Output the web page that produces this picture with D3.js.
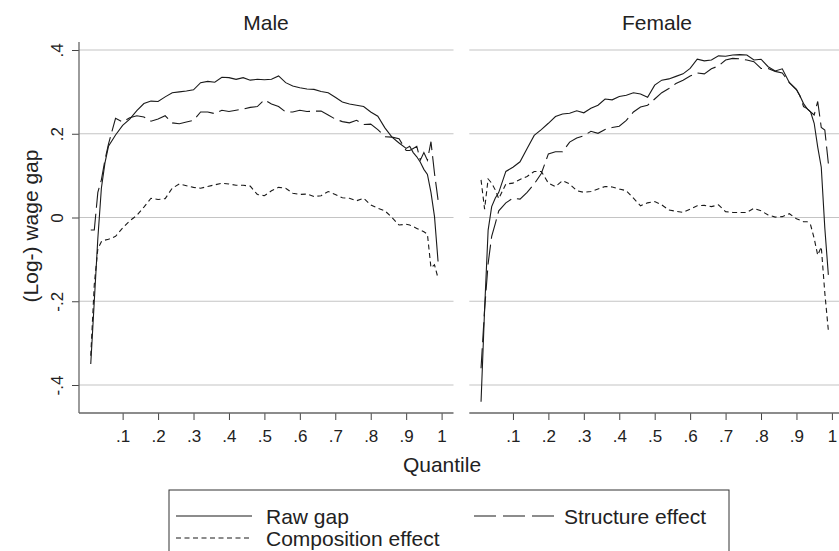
<!DOCTYPE html>
<html>
<head>
<meta charset="utf-8">
<script src="https://cdn.jsdelivr.net/npm/d3@7"></script>
<style>
  body { margin: 0; background: #fff; }
  text { font-family: "Liberation Sans", Arial, sans-serif; fill: #222; }
</style>
</head>
<body>
<script>
// quantile grid shared by all series
const quantiles = [0.01,0.02,0.03,0.04,0.05,0.06,0.08,0.10,0.12,0.14,0.16,0.18,0.20,0.22,0.24,0.26,0.28,0.30,0.32,0.34,0.36,0.38,0.40,0.42,0.44,0.46,0.48,0.50,0.52,0.54,0.56,0.58,0.60,0.62,0.64,0.66,0.68,0.70,0.72,0.74,0.76,0.78,0.80,0.82,0.84,0.86,0.88,0.90,0.91,0.92,0.93,0.94,0.95,0.96,0.97,0.98,0.99];

const maleRaw = [-0.35,-0.20,-0.05,0.07,0.13,0.17,0.197,0.22,0.235,0.255,0.272,0.278,0.277,0.288,0.298,0.300,0.302,0.305,0.322,0.325,0.323,0.335,0.334,0.330,0.334,0.328,0.330,0.329,0.330,0.338,0.322,0.314,0.310,0.307,0.306,0.301,0.298,0.287,0.276,0.271,0.268,0.265,0.252,0.242,0.214,0.192,0.178,0.165,0.170,0.155,0.145,0.132,0.115,0.103,0.06,0.002,-0.105];
const maleStructure = [-0.03,-0.03,0.06,0.09,0.137,0.175,0.237,0.228,0.238,0.243,0.24,0.23,0.235,0.243,0.226,0.224,0.228,0.232,0.252,0.252,0.248,0.256,0.253,0.256,0.259,0.263,0.265,0.281,0.271,0.265,0.252,0.252,0.256,0.253,0.254,0.254,0.245,0.235,0.229,0.226,0.232,0.222,0.223,0.210,0.193,0.192,0.188,0.160,0.160,0.165,0.170,0.137,0.155,0.137,0.181,0.105,0.042];
const maleComposition = [-0.33,-0.16,-0.075,-0.058,-0.054,-0.052,-0.045,-0.025,-0.008,0.005,0.025,0.046,0.043,0.045,0.07,0.08,0.076,0.072,0.07,0.074,0.078,0.082,0.08,0.077,0.077,0.075,0.055,0.052,0.064,0.072,0.07,0.058,0.055,0.056,0.05,0.052,0.062,0.055,0.047,0.046,0.04,0.046,0.03,0.022,0.016,0.0,-0.018,-0.016,-0.018,-0.022,-0.026,-0.03,-0.034,-0.04,-0.12,-0.113,-0.145];

const femaleRaw = [-0.44,-0.22,-0.03,0.026,0.046,0.06,0.11,0.12,0.133,0.165,0.196,0.21,0.225,0.241,0.247,0.249,0.255,0.25,0.261,0.268,0.283,0.281,0.289,0.292,0.298,0.295,0.287,0.316,0.328,0.331,0.337,0.343,0.356,0.378,0.374,0.376,0.386,0.385,0.388,0.389,0.388,0.376,0.378,0.36,0.35,0.355,0.322,0.305,0.29,0.272,0.26,0.252,0.225,0.168,0.12,-0.025,-0.137];
const femaleStructure = [-0.36,-0.22,-0.11,-0.045,-0.015,0.016,0.035,0.046,0.044,0.06,0.08,0.105,0.152,0.157,0.157,0.18,0.19,0.195,0.206,0.201,0.21,0.215,0.218,0.232,0.252,0.264,0.268,0.283,0.298,0.308,0.32,0.328,0.338,0.345,0.343,0.355,0.362,0.376,0.38,0.379,0.376,0.372,0.356,0.356,0.349,0.345,0.322,0.306,0.29,0.265,0.26,0.252,0.245,0.277,0.215,0.209,0.129];
const femaleComposition = [0.09,0.02,0.092,0.082,0.066,0.045,0.08,0.082,0.091,0.098,0.11,0.11,0.082,0.074,0.088,0.08,0.064,0.06,0.062,0.068,0.074,0.073,0.068,0.064,0.046,0.028,0.035,0.038,0.03,0.018,0.015,0.012,0.02,0.028,0.029,0.026,0.03,0.014,0.012,0.012,0.012,0.022,0.016,0.006,0.001,0.002,0.009,-0.003,-0.006,-0.01,-0.01,-0.018,-0.05,-0.09,-0.07,-0.18,-0.27];

const panelTitles = ["Male", "Female"];
const xTicks = [0.1,0.2,0.3,0.4,0.5,0.6,0.7,0.8,0.9,1];
const xTickLabels = [".1",".2",".3",".4",".5",".6",".7",".8",".9","1"];
const yTicks = [0.4,0.2,0,-0.2,-0.4];
const yTickLabels = [".4",".2","0","-.2","-.4"];
const seriesNames = ["Raw gap", "Structure effect", "Composition effect"];

const styles = {
  "Raw gap": null,
  "Structure effect": "20,6",
  "Composition effect": "5,3.5"
};

const W = 839, H = 551;
const svg = d3.select("body").append("svg")
  .attr("width", W).attr("height", H);

const plotTop = 42, plotBottom = 413;
const panelW = 374.5;
const panelLefts = [79, 469.3];
const tickFont = 17, titleFont = 21;

const y = d3.scaleLinear().domain([-0.4, 0.4]).range([385, 50]);

const panels = [
  { title: panelTitles[0], data: [maleRaw, maleStructure, maleComposition], cx: 266 },
  { title: panelTitles[1], data: [femaleRaw, femaleStructure, femaleComposition], cx: 657 }
];

panels.forEach((p, pi) => {
  const left = panelLefts[pi];
  const x = d3.scaleLinear().domain([0, 1]).range([left + 8.2, left + 8.2 + 354.4]);
  const g = svg.append("g");

  // gridlines
  g.selectAll("line.grid").data(yTicks).enter().append("line")
    .attr("x1", left).attr("x2", left + panelW)
    .attr("y1", d => y(d)).attr("y2", d => y(d))
    .attr("stroke", "#c4c4c4").attr("stroke-width", 1.2);

  // x axis
  const xAxis = d3.axisBottom(x).tickValues(xTicks)
    .tickFormat((d, i) => xTickLabels[i]).tickSize(7).tickSizeOuter(0);
  const xg = g.append("g").attr("transform", `translate(0,${plotBottom})`).call(xAxis);
  xg.select(".domain").remove();
  xg.selectAll(".tick line").attr("stroke", "#444");
  xg.selectAll(".tick text").attr("font-size", tickFont).attr("fill", "#222")
    .attr("font-family", "Liberation Sans, Arial, sans-serif")
    .attr("y", 29).attr("dy", 0);
  g.append("line").attr("x1", left).attr("x2", left + panelW)
    .attr("y1", plotBottom).attr("y2", plotBottom).attr("stroke", "#666").attr("stroke-width", 1.3);

  // y axis only on left panel
  if (pi === 0) {
    const yAxis = d3.axisLeft(y).tickValues(yTicks).tickFormat((d, i) => yTickLabels[i])
      .tickSize(7).tickSizeOuter(0);
    const yg = g.append("g").attr("transform", `translate(${left},0)`).call(yAxis);
    yg.select(".domain").remove();
    yg.selectAll(".tick line").attr("stroke", "#444");
    yg.selectAll(".tick text").attr("font-size", tickFont).attr("fill", "#222")
      .attr("font-family", "Liberation Sans, Arial, sans-serif")
      .attr("text-anchor", "middle").attr("x", 0).attr("dy", 0)
      .attr("transform", "translate(-16.5,0) rotate(-90)");
    g.append("line").attr("x1", left).attr("x2", left)
      .attr("y1", plotTop).attr("y2", plotBottom).attr("stroke", "#666").attr("stroke-width", 1.3);
  }

  // panel title
  g.append("text").attr("x", p.cx).attr("y", 30)
    .attr("text-anchor", "middle").attr("font-size", titleFont).text(p.title);

  // series lines
  const line = d3.line().x((d, i) => x(quantiles[i])).y(d => y(d));
  p.data.forEach((vals, si) => {
    g.append("path").datum(vals).attr("d", line)
      .attr("fill", "none").attr("stroke", "#1a1a1a").attr("stroke-width", 1.1)
      .attr("stroke-dasharray", styles[seriesNames[si]]);
  });
});

// y axis title
svg.append("text").attr("transform", "translate(38,226) rotate(-90)")
  .attr("text-anchor", "middle").attr("font-size", titleFont).text("(Log-) wage gap");

// x axis title
svg.append("text").attr("x", 442).attr("y", 472)
  .attr("text-anchor", "middle").attr("font-size", titleFont).text("Quantile");

// legend
const legend = svg.append("g");
legend.append("rect").attr("x", 169).attr("y", 490).attr("width", 560).attr("height", 80)
  .attr("fill", "none").attr("stroke", "#333").attr("stroke-width", 1);
const legendItems = [
  { name: seriesNames[0], x: 176, y: 516 },
  { name: seriesNames[1], x: 474, y: 516 },
  { name: seriesNames[2], x: 176, y: 538 }
];
legendItems.forEach(it => {
  legend.append("line").attr("x1", it.x).attr("x2", it.x + (it.name === "Structure effect" ? 81 : 76))
    .attr("y1", it.y).attr("y2", it.y)
    .attr("stroke", "#1a1a1a").attr("stroke-width", 1.1)
    .attr("stroke-dasharray", it.name === "Structure effect" ? "22,7" : styles[it.name]);
  legend.append("text").attr("x", it.x + 90).attr("y", it.y + 7.5)
    .attr("font-size", titleFont).text(it.name);
});
</script>
</body>
</html>
